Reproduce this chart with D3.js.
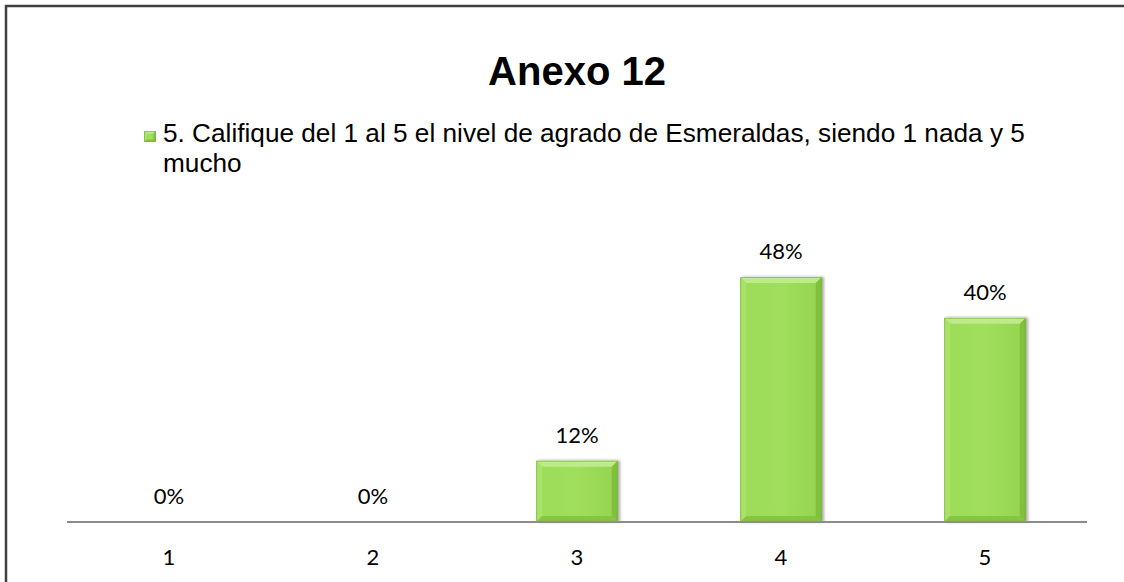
<!DOCTYPE html>
<html>
<head>
<meta charset="utf-8">
<script src="https://cdn.jsdelivr.net/npm/d3@7/dist/d3.min.js"></script>
<style>
  html, body { margin: 0; padding: 0; background: #ffffff; overflow: hidden; }
  svg { display: block; }
</style>
</head>
<body>
<script>
// Survey answers: rating 1..5 and the share of respondents for each
const categories = ["1", "2", "3", "4", "5"];
const shares = [0, 0, 12, 48, 40];
const valueLabels = ["0%", "0%", "12%", "48%", "40%"];
const chartTitle = "Anexo 12";
const seriesName = ["5. Califique del 1 al 5 el nivel de agrado de Esmeraldas, siendo 1 nada y 5", "mucho"];

const W = 1124, H = 582;
const svg = d3.select("body").append("svg").attr("width", W).attr("height", H);

// frame: only the top and left edges fall inside the view
svg.append("path")
  .attr("d", `M${W + 5},6 H6 V${H + 5}`)
  .attr("fill", "none")
  .attr("stroke", "#404040").attr("stroke-width", 2.5);

// title
svg.append("text")
  .attr("x", 577).attr("y", 85)
  .attr("text-anchor", "middle")
  .attr("font-family", "'Liberation Sans', Arial, sans-serif")
  .attr("font-weight", "bold")
  .attr("font-size", 40)
  .attr("fill", "#000")
  .text(chartTitle);

// plot area
const plot = { left: 67, right: 1087, base: 522 };
const x = d3.scaleBand().domain(categories)
  .range([plot.left, plot.right])
  .paddingInner(0.6).paddingOuter(0.3);
const y = d3.scaleLinear().domain([0, 48]).range([plot.base, 277]);

const defs = svg.append("defs");
const grad = defs.append("linearGradient").attr("id", "barFace")
  .attr("x1", 0).attr("y1", 0).attr("x2", 1).attr("y2", 0);
grad.append("stop").attr("offset", "0%").attr("stop-color", "#9cdc58");
grad.append("stop").attr("offset", "50%").attr("stop-color", "#a0de5c");
grad.append("stop").attr("offset", "100%").attr("stop-color", "#94d450");

const shadow = defs.append("filter").attr("id", "barShadow")
  .attr("x", "-20%").attr("y", "-20%").attr("width", "140%").attr("height", "140%");
shadow.append("feGaussianBlur").attr("in", "SourceAlpha").attr("stdDeviation", 1.5).attr("result", "b");
shadow.append("feOffset").attr("in", "b").attr("dx", 2).attr("dy", 0).attr("result", "o");
shadow.append("feComponentTransfer").attr("in", "o").attr("result", "s")
  .append("feFuncA").attr("type", "linear").attr("slope", 0.35);
const fm = shadow.append("feMerge");
fm.append("feMergeNode").attr("in", "s");
fm.append("feMergeNode").attr("in", "SourceGraphic");

// draws a bevelled bar: flat face plus light/dark edge facets
function bevelBar(g, x0, y0, w, h, bv) {
  const x1 = x0 + w, y1 = y0 + h;
  g.append("rect").attr("x", x0).attr("y", y0).attr("width", w).attr("height", h)
    .attr("fill", "url(#barFace)");
  const facet = (pts, fill) => g.append("polygon")
    .attr("points", pts.map(p => p.join(",")).join(" ")).attr("fill", fill);
  facet([[x0, y0], [x1, y0], [x1 - bv, y0 + bv], [x0 + bv, y0 + bv]], "#bdeb8a");
  facet([[x0, y0], [x0 + bv, y0 + bv], [x0 + bv, y1 - bv], [x0, y1]], "#a8e26a");
  facet([[x1, y0], [x1, y1], [x1 - bv, y1 - bv], [x1 - bv, y0 + bv]], "#80c03c");
  facet([[x0, y1], [x0 + bv, y1 - bv], [x1 - bv, y1 - bv], [x1, y1]], "#86c442");
  g.append("rect").attr("x", x0 + 0.5).attr("y", y0 + 0.5).attr("width", w - 1).attr("height", h - 1)
    .attr("fill", "none").attr("stroke", "#76b236").attr("stroke-width", 1).attr("stroke-opacity", 0.6);
}

const bars = svg.append("g");
categories.forEach((c, i) => {
  if (shares[i] <= 0) return;
  const g = bars.append("g").attr("filter", "url(#barShadow)");
  const top = y(shares[i]);
  bevelBar(g, x(c), top, x.bandwidth(), plot.base - top, 6);
});

// category axis line
svg.append("line")
  .attr("x1", plot.left).attr("x2", plot.right)
  .attr("y1", plot.base).attr("y2", plot.base)
  .attr("stroke", "#8c8c8c").attr("stroke-width", 2);

// category labels
const labelFont = "Lato, 'Open Sans', sans-serif";
svg.append("g").selectAll("text").data(categories).join("text")
  .attr("x", d => x(d) + x.bandwidth() / 2)
  .attr("y", 565)
  .attr("text-anchor", "middle")
  .attr("font-family", labelFont).attr("font-size", 22)
  .attr("fill", "#000")
  .text(d => d);

// value labels above each bar
svg.append("g").selectAll("text").data(categories).join("text")
  .attr("x", d => x(d) + x.bandwidth() / 2)
  .attr("y", (d, i) => y(shares[i]) - 18)
  .attr("text-anchor", "middle")
  .attr("font-family", labelFont).attr("font-size", 22)
  .attr("fill", "#000")
  .text((d, i) => valueLabels[i]);

// legend
const lg = svg.append("g");
bevelBar(lg, 144, 131, 12, 11, 2.5);
lg.selectAll("text").data(seriesName).join("text")
  .attr("x", 163)
  .attr("y", (d, i) => 142 + i * 30)
  .attr("font-family", "'Liberation Sans', Arial, sans-serif")
  .attr("font-size", 26.2)
  .attr("fill", "#000")
  .text(d => d);
</script>
</body>
</html>
